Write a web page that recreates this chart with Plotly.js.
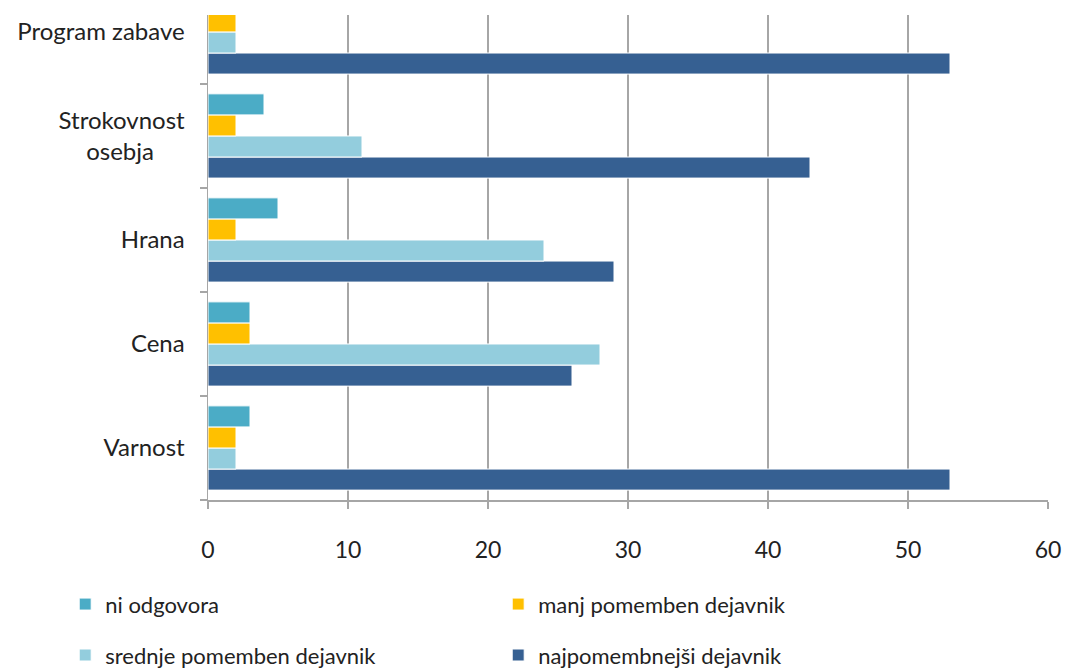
<!DOCTYPE html>
<html><head><meta charset="utf-8">
<script src="https://cdn.plot.ly/plotly-3.0.1.min.js"></script>
<style>body{margin:0;background:#fff}#c{width:1066px;height:669px}</style>
</head><body><div id="c"></div>
<script>
const categories = ["Varnost", "Cena", "Hrana", "Strokovnost<br>osebja&nbsp;&nbsp;&nbsp;&nbsp;&nbsp;", "Program zabave"];
const niOdgovora = [3, 3, 5, 4, 3];
const manjPomemben = [2, 3, 2, 2, 2];
const srednjePomemben = [2, 28, 24, 11, 2];
const najpomembnejsi = [53, 26, 29, 43, 53];
const xTicks = [0, 10, 20, 30, 40, 50, 60];

const font = "Lato, 'Open Sans', sans-serif";
function tr(name, vals, color, legend, rank) {
  return {type: "bar", orientation: "h", name: name, x: vals, y: categories,
    marker: {color: color, line: {color: "#ffffff", width: 1}},
    legend: legend, legendrank: rank, hoverinfo: "x+name"};
}
const data = [
  tr("najpomembnejši dejavnik", najpomembnejsi, "#366092", "legend2", 4),
  tr("srednje pomemben dejavnik", srednjePomemben, "#93CDDD", "legend2", 3),
  tr("manj pomemben dejavnik", manjPomemben, "#FFC000", "legend", 2),
  tr("ni odgovora", niOdgovora, "#4BACC6", "legend", 1)
];
const legBase = {orientation: "h", xref: "paper", yref: "paper", xanchor: "left", yanchor: "middle",
  font: {family: font, size: 22, color: "#222"}, entrywidth: 388, entrywidthmode: "pixels",
  itemwidth: 30, bgcolor: "rgba(0,0,0,0)"};
const layout = {
  width: 1066, height: 669,
  margin: {l: 208, r: 18, t: 15, b: 169, autoexpand: false},
  paper_bgcolor: "#fff", plot_bgcolor: "#fff",
  barmode: "group", bargap: 0.19, bargroupgap: 0,
  font: {family: font, size: 23, color: "#222"},
  xaxis: {range: [0, 60], tickvals: xTicks, ticktext: xTicks.map(String),
    showgrid: true, gridcolor: "#A6A6A6", gridwidth: 1.5, zeroline: false,
    showline: true, linecolor: "#A6A6A6", linewidth: 1.5,
    ticks: "outside", ticklen: 7, tickcolor: "#A6A6A6", tickwidth: 1.5,
    ticklabelstandoff: 22, tickfont: {family: font, size: 23, color: "#222"}, fixedrange: true},
  yaxis: {type: "category", range: [-0.5, 4.163], showgrid: false, zeroline: false,
    showline: true, linecolor: "#A6A6A6", linewidth: 1.5,
    ticks: "outside", ticklen: 7, tickcolor: "#A6A6A6", tickwidth: 1.5, tickson: "boundaries",
    ticklabelstandoff: 17, tickfont: {family: font, size: 24, color: "#222"}, fixedrange: true},
  showlegend: true,
  legend: Object.assign({}, legBase, {x: -0.17, y: -0.215}),
  legend2: Object.assign({}, legBase, {x: -0.17, y: -0.320})
};
Plotly.newPlot("c", data, layout, {displayModeBar: false, staticPlot: true});
</script></body></html>
